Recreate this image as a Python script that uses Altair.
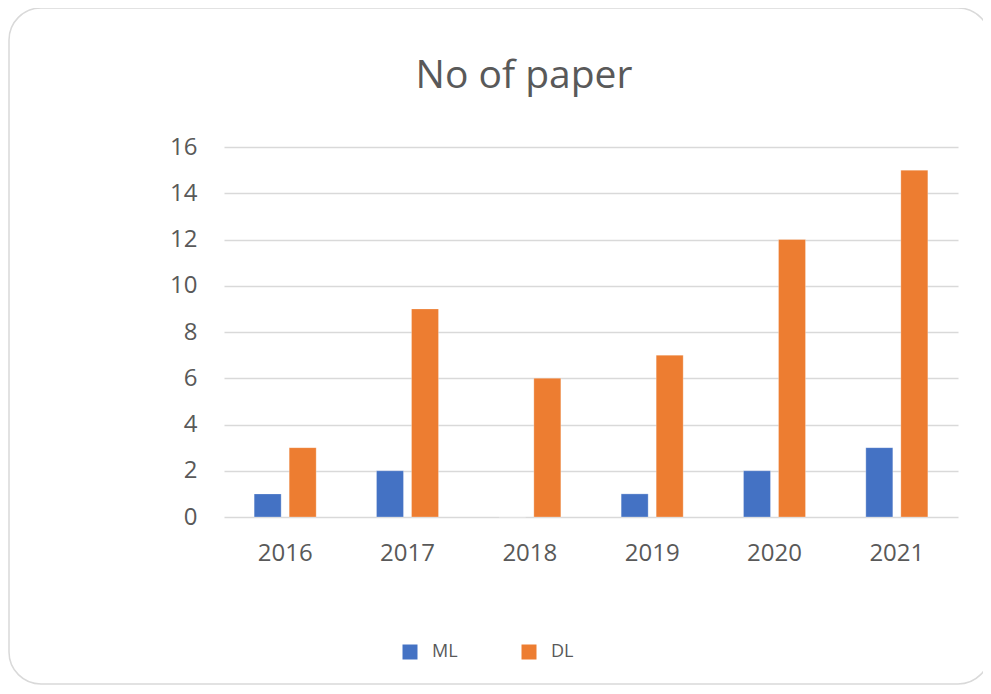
import altair as alt
import pandas as pd

years = ["2016", "2017", "2018", "2019", "2020", "2021"]
ml = [1, 2, 0, 1, 2, 3]
dl = [3, 9, 6, 7, 12, 15]
series = ["ML", "DL"]
colors = ["#4472C4", "#ED7D31"]

rows = []
for i, y in enumerate(years):
    rows.append({"year": y, "series": "ML", "value": ml[i]})
    rows.append({"year": y, "series": "DL", "value": dl[i]})
df = pd.DataFrame(rows)

FONT = "Open Sans"
GRAY = "#595959"

bars = alt.Chart(df).mark_bar(stroke="white", strokeOpacity=0.35, strokeWidth=0.8).encode(
    x=alt.X("year:N", sort=years, title=None,
            scale=alt.Scale(paddingInner=0.493, paddingOuter=0.2465),
            axis=alt.Axis(labelAngle=0, domain=False, ticks=False, labelPadding=24,
                          labelFontSize=24, labelColor=GRAY, labelFont=FONT, grid=False)),
    xOffset=alt.XOffset("series:N", sort=series,
                        scale=alt.Scale(paddingInner=0.229, paddingOuter=0)),
    y=alt.Y("value:Q", title=None,
            scale=alt.Scale(domain=[0, 16]),
            axis=alt.Axis(values=list(range(0, 17, 2)), domain=False, ticks=False,
                          labelPadding=27, labelFontSize=24, labelColor=GRAY, labelFont=FONT,
                          gridColor="#d9d9d9", gridWidth=1.3)),
    color=alt.Color("series:N", sort=series,
                    scale=alt.Scale(domain=series, range=colors),
                    legend=alt.Legend(orient="none", legendX=177, legendY=496,
                                      direction="horizontal", title=None,
                                      symbolType="square", symbolSize=225,
                                      symbolStrokeWidth=0, labelFontSize=18,
                                      labelColor=GRAY, labelFont=FONT, labelOffset=13,
                                      columnPadding=62, padding=0)),
)

border = alt.Chart(pd.DataFrame({"a": [0]})).mark_rect(
    fill=None, stroke="#d9d9d9", strokeWidth=1.5, cornerRadius=32
).encode(
    x=alt.value(-215), x2=alt.value(766), y=alt.value(-139), y2=alt.value(537)
)

chart = alt.layer(border, bars).properties(
    width=734, height=370,
    padding={"left": 216, "top": 139, "right": 25, "bottom": 168},
    autosize=alt.AutoSizeParams(type="none"),
    background="white",
    title=alt.TitleParams("No of paper", fontSize=39, font=FONT, color=GRAY,
                          fontWeight="normal", frame="group", anchor="middle",
                          baseline="alphabetic", offset=0, dy=120, dx=-67),
).configure_view(stroke=None)

chart.save("out.html", embed_options={"renderer": "svg", "actions": False})
